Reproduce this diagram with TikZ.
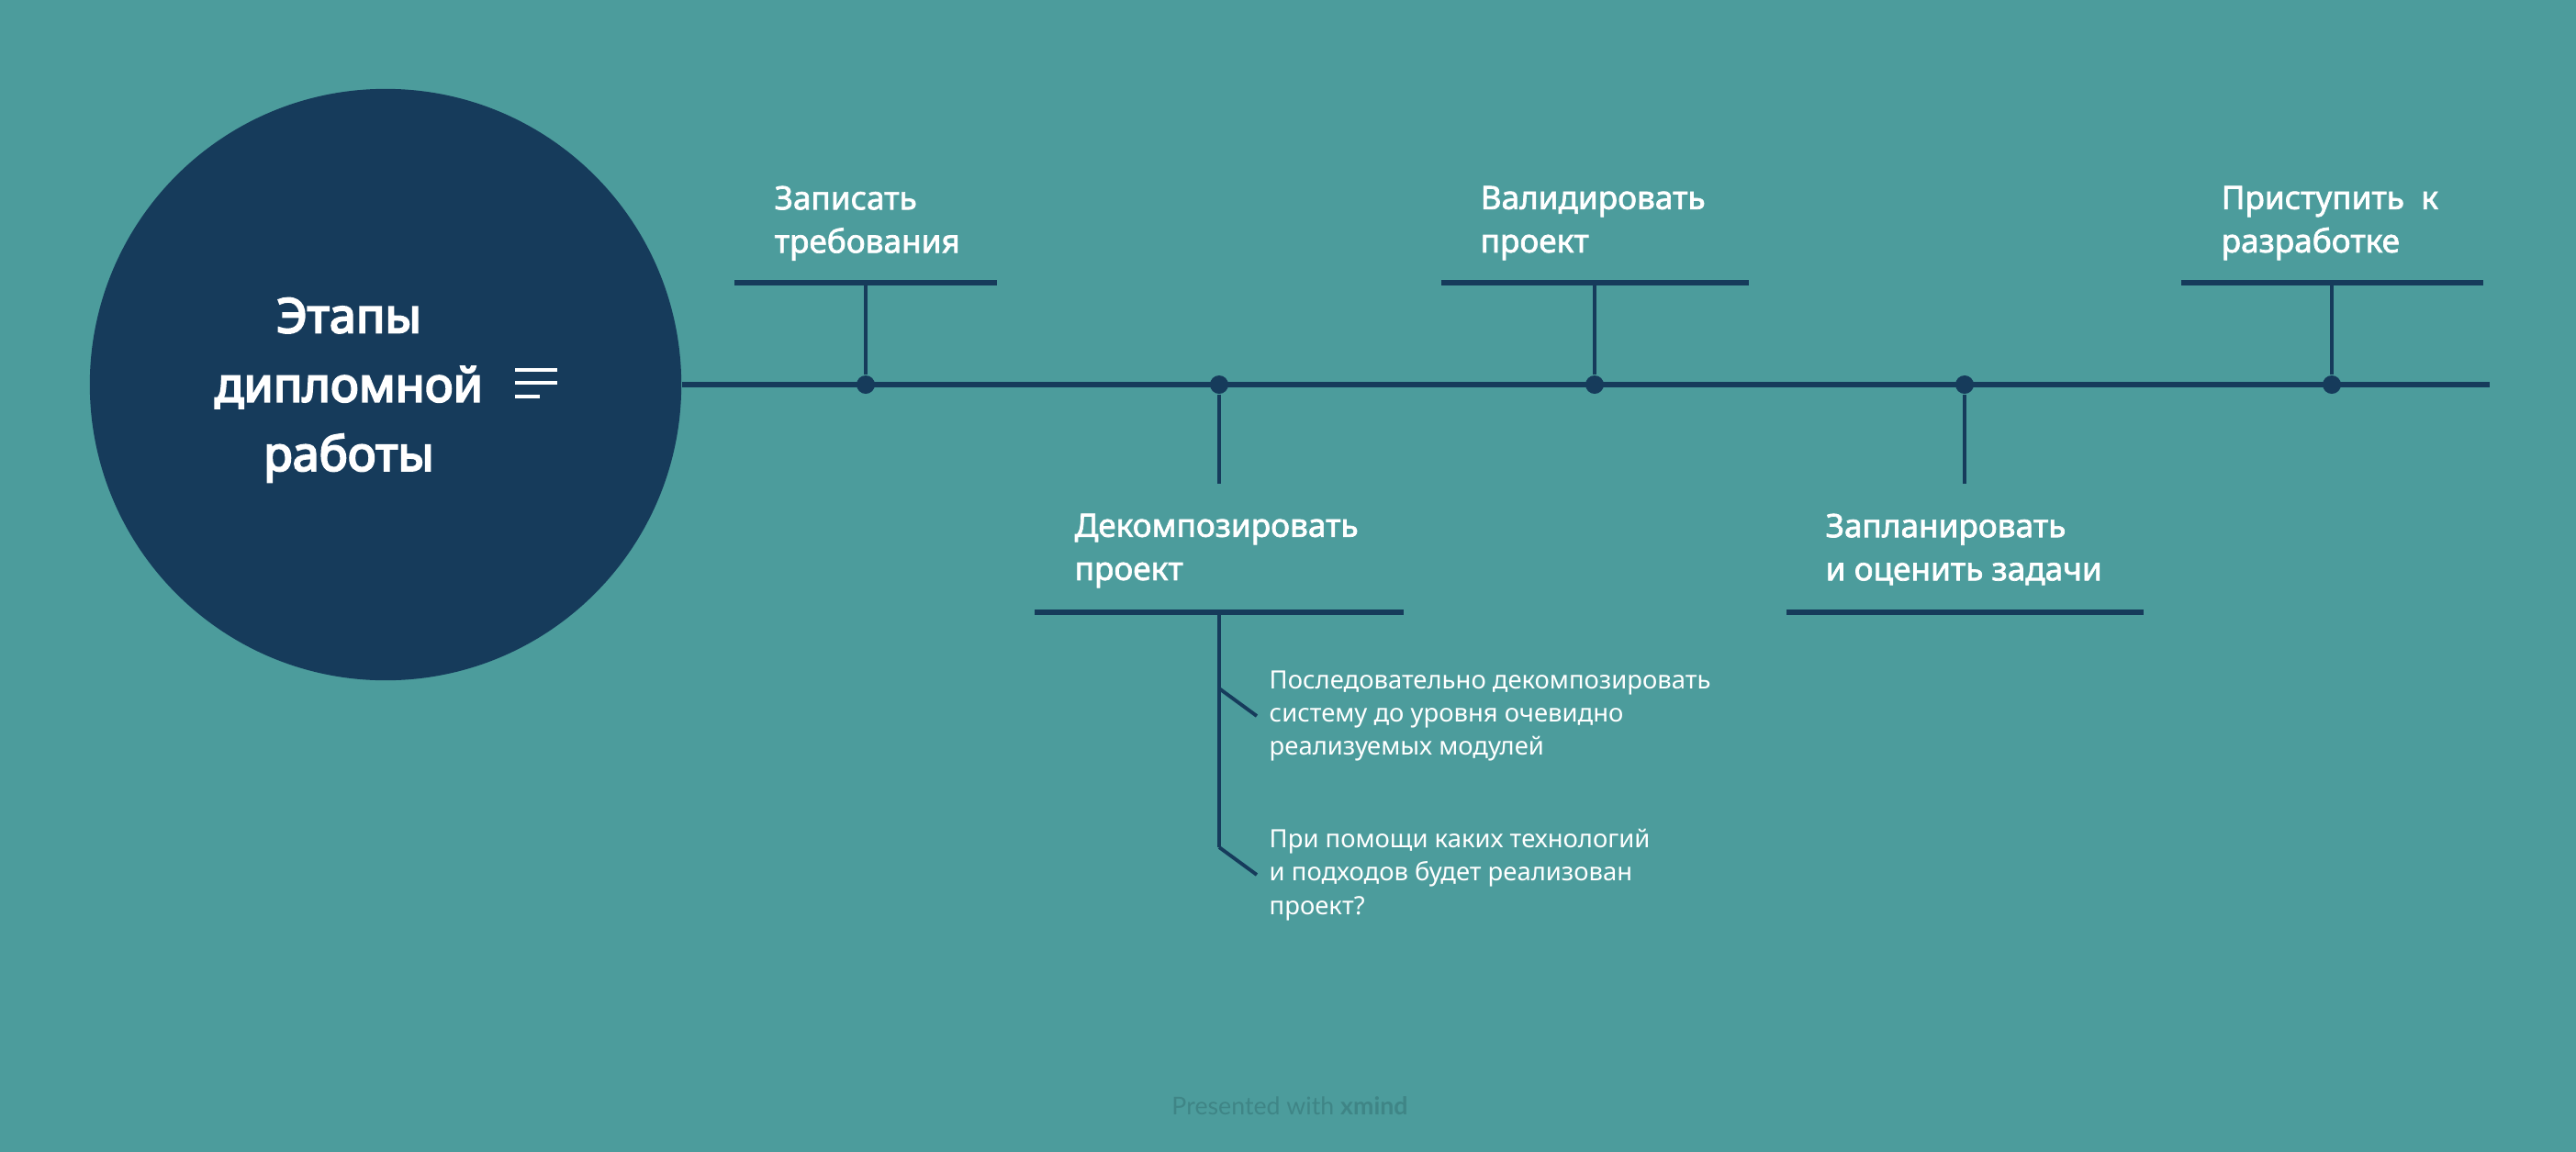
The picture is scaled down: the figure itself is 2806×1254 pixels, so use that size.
\documentclass[tikz,border=0pt]{standalone}
\usepackage{fontspec}
\setmainfont{Noto Sans}
\newfontfamily\topicfont{Noto Sans}[FakeBold=2]
\newfontfamily\titlefont{Noto Sans}[FakeBold=4]
\newfontfamily\footfont{Lato}
\usetikzlibrary{positioning}
\definecolor{bgteal}{HTML}{4C9C9C}
\definecolor{navycolor}{HTML}{163B5B}
\definecolor{footcolor}{HTML}{3F8586}

\begin{document}
\begin{tikzpicture}[x=0.01cm, y=-0.01cm,
  topic/.style={text=white, inner sep=0pt, align=left, anchor=north west,
    font=\topicfont\fontsize{10}{13.4}\selectfont},
  note/.style={text=white, inner ysep=0pt, inner xsep=0.13cm, align=left, anchor=west,
    font=\fontsize{7.8}{10.3}\selectfont},
  dotmark/.style={circle, fill=navycolor, inner sep=0pt, minimum size=0.2cm},
  spine/.style={navycolor, line width=1.7pt},
  stem/.style={navycolor, line width=1.35pt},
  bar/.style={navycolor, line width=1.7pt},
  twig/.style={navycolor, line width=1.1pt}]
  % Background
  \useasboundingbox (0,0) rectangle (2806,1254);
  \fill[bgteal] (-10,-10) rectangle (2816,1264);
  % Central topic
  \node[circle, fill=navycolor, inner sep=0pt, minimum size=6.44cm] (root) at (420,419) {};
  \node[text=white, align=center, font=\titlefont\fontsize{14.8}{21.4}\selectfont] (title) at (380,425)
    {Этапы\\дипломной\\работы};
  % Notes icon
  \draw[white, line width=1.15pt] (561,403) -- (607,403) (561,417) -- (607,417) (561,432) -- (588,432);
  % Main line with the five stages
  \coordinate (tail) at (2712,419);
  \draw[spine] (root.east) -- (tail);
  \foreach \n/\x in {1/943, 2/1328, 3/1737, 4/2140, 5/2540}
    \node[dotmark] (d\n) at (\x,419) {};
  % Upper stages
  \coordinate (s1) at (943,308);  \coordinate (b1w) at (800,308);  \coordinate (b1e) at (1086,308);
  \coordinate (s3) at (1737,308); \coordinate (b3w) at (1570,308); \coordinate (b3e) at (1905,308);
  \coordinate (s5) at (2540,308); \coordinate (b5w) at (2376,308); \coordinate (b5e) at (2705,308);
  \draw[stem] (d1) -- (s1);
  \draw[stem] (d3) -- (s3);
  \draw[stem] (d5) -- (s5);
  \draw[bar] (b1w) -- (b1e);
  \draw[bar] (b3w) -- (b3e);
  \draw[bar] (b5w) -- (b5e);
  \node[topic] (t1) at (843,202) {Записать\\требования};
  \node[topic] (t3) at (1612,202) {Валидировать\\проект};
  \node[topic] (t5) at (2419,202) {Приступить~~к\\разработке};
  % Lower stages
  \coordinate (s2) at (1328,527); \coordinate (b2w) at (1127,667); \coordinate (b2e) at (1529,667);
  \coordinate (s4) at (2140,527); \coordinate (b4w) at (1946,667); \coordinate (b4e) at (2335,667);
  \draw[stem] (d2) -- (s2);
  \draw[stem] (d4) -- (s4);
  \draw[bar] (b2w) -- (b2e);
  \draw[bar] (b4w) -- (b4e);
  \node[topic] (t2) at (1170,559) {Декомпозировать\\проект};
  \node[topic] (t4) at (1988,559) {Запланировать\\и оценить задачи};
  % Notes under the decomposition stage
  \coordinate (sb2) at (1328,667);
  \coordinate (k1) at (1328,750);
  \coordinate (k2) at (1328,923);
  \draw[stem] (sb2) -- (k2);
  \node[note] (n1) at (1369,780) {Последовательно декомпозировать\\систему до уровня очевидно\\реализуемых модулей};
  \node[note] (n2) at (1369,953) {При помощи каких технологий\\и подходов будет реализован\\проект?};
  \draw[twig] (k1) -- (n1.west);
  \draw[twig] (k2) -- (n2.west);
  % Footer
  \node[text=footcolor, font=\footfont\fontsize{7.6}{9}\selectfont] (credit) at (1405,1205)
    {Presented with \textbf{xmind}};
\end{tikzpicture}
\end{document}
